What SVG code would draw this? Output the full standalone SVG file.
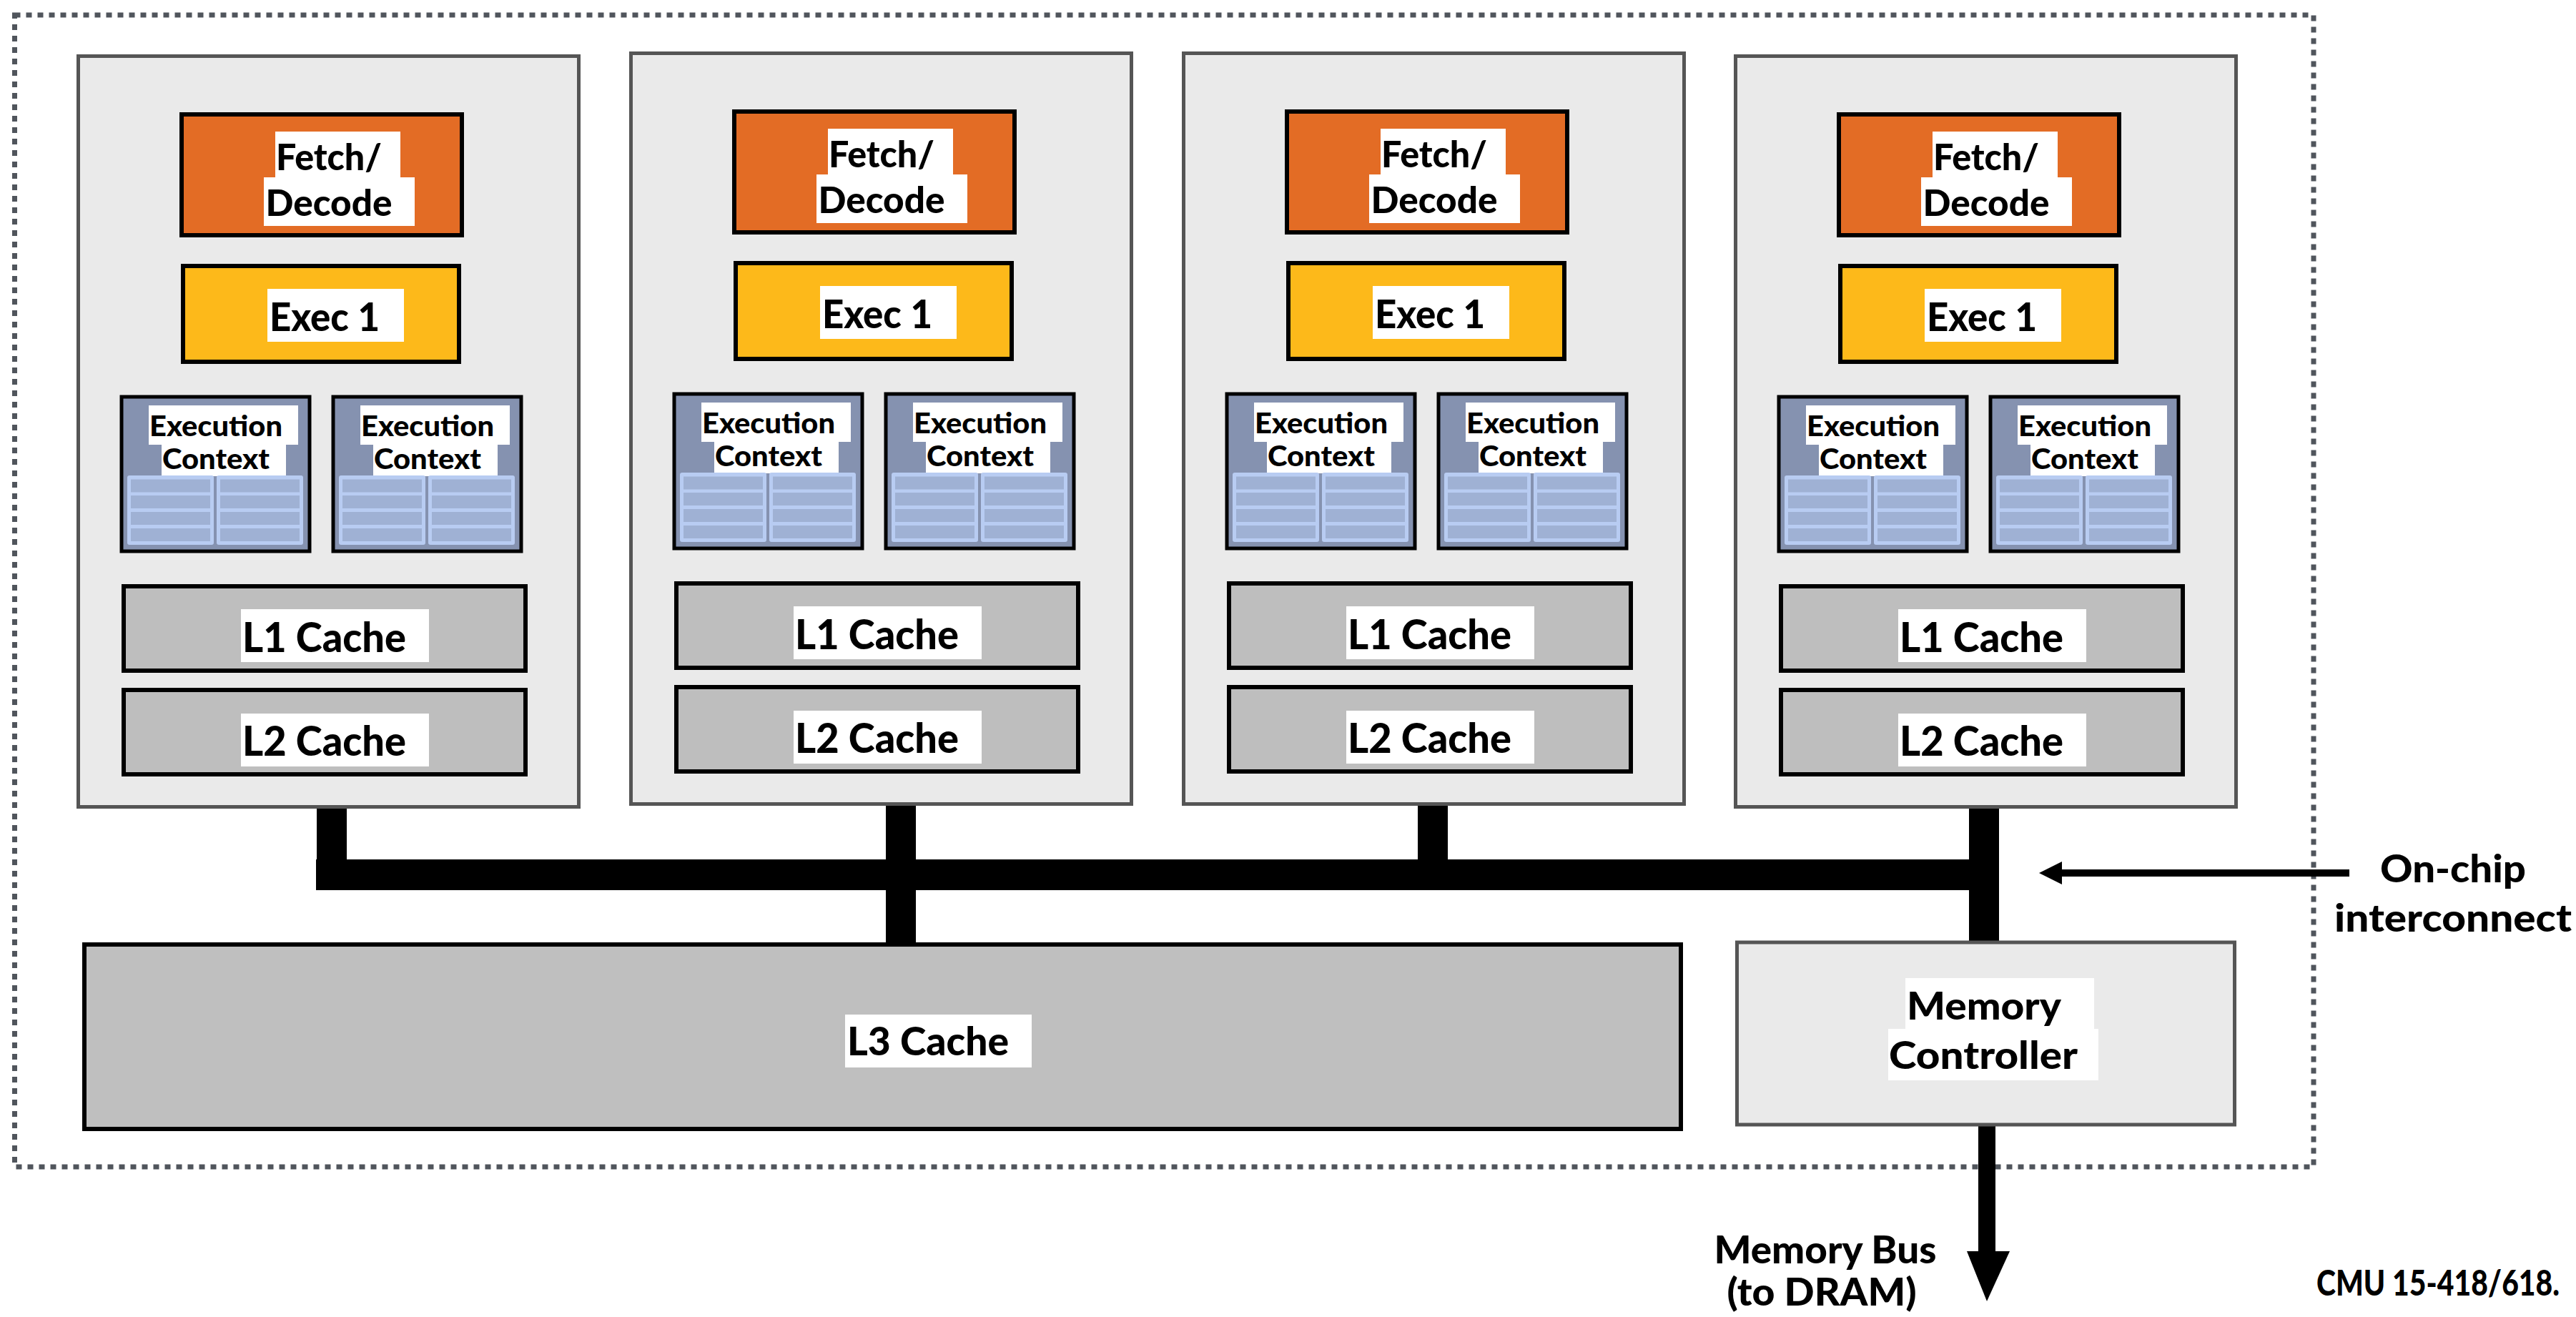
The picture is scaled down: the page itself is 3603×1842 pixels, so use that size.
<svg xmlns="http://www.w3.org/2000/svg" xmlns:xlink="http://www.w3.org/1999/xlink" width="3603" height="1842" viewBox="0 0 3603 1842">
<style>
.core{fill:#eaeaea;stroke:#555555;stroke-width:5}
.fetch{fill:#e36c25;stroke:#000;stroke-width:6}
.exec{fill:#fdb91a;stroke:#000;stroke-width:6}
.ec{fill:#8592b0;stroke:#000;stroke-width:5}
.cache{fill:#bebebe;stroke:#000;stroke-width:6}
.bg{fill:#ffffff}
.lbl{font-family:Lato,"Open Sans","Liberation Sans",sans-serif;font-weight:900;fill:#000;text-anchor:middle}
.regcol{fill:#b8ccf2}
.cell{fill:#9fb1d4}
.wire{fill:#000}
.border{fill:none;stroke:#50555c;stroke-width:7;stroke-dasharray:8 8}
</style>
<defs>
<g id="regs">
<rect class="regcol" x="0" y="0" width="121" height="97" rx="3"/>
<rect class="cell" x="5" y="5.5" width="111" height="18"/>
<rect class="cell" x="5" y="28" width="111" height="18"/>
<rect class="cell" x="5" y="51" width="111" height="18"/>
<rect class="cell" x="5" y="74" width="111" height="18"/>
<rect class="regcol" x="125" y="0" width="121" height="97" rx="3"/>
<rect class="cell" x="130" y="5.5" width="111" height="18"/>
<rect class="cell" x="130" y="28" width="111" height="18"/>
<rect class="cell" x="130" y="51" width="111" height="18"/>
<rect class="cell" x="130" y="74" width="111" height="18"/>
</g>
</defs>
<rect width="3603" height="1842" fill="#ffffff"/>
<rect id="chip" class="border" x="20.5" y="21" width="3215.5" height="1611"/>

<g id="connectors">
<rect class="wire" x="442" y="1202" width="2354" height="43"/>
<rect class="wire" x="443" y="1128" width="42" height="76"/>
<rect class="wire" x="1239" y="1124" width="42" height="196"/>
<rect class="wire" x="1983" y="1124" width="42" height="80"/>
<rect class="wire" x="2754" y="1128" width="42" height="190"/>
<rect class="wire" x="2767" y="1573" width="24" height="179"/>
<polygon class="wire" points="2751,1750 2811,1750 2779,1820"/>
<rect class="wire" x="2882" y="1216" width="404" height="10"/>
<polygon class="wire" points="2852,1221 2884,1205 2884,1237"/>
</g>

<g id="core1">
<rect class="core" x="109.5" y="78.5" width="700" height="1050"/>
<g id="core1-fetch"><rect class="fetch" x="254" y="160" width="392" height="169"/>
<rect class="bg" x="385" y="184" width="175" height="65"/><rect class="bg" x="369" y="248" width="211" height="68"/>
<text class="lbl" x="460" y="238" font-size="52" textLength="148" lengthAdjust="spacingAndGlyphs">Fetch/</text>
<text class="lbl" x="460" y="302" font-size="52" textLength="177" lengthAdjust="spacingAndGlyphs">Decode</text></g>
<g id="core1-exec"><rect class="exec" x="256" y="372" width="386" height="134"/>
<rect class="bg" x="374" y="404" width="191" height="74"/>
<text class="lbl" x="454" y="463" font-size="55" textLength="154" lengthAdjust="spacingAndGlyphs">Exec 1</text></g>
<g id="core1-ctx1"><rect class="ec" x="170" y="555" width="263" height="216"/>
<rect class="bg" x="208" y="567" width="209" height="55"/><rect class="bg" x="226" y="621" width="174" height="45"/>
<text class="lbl" x="302" y="610" font-size="40" textLength="186" lengthAdjust="spacingAndGlyphs">Execution</text>
<text class="lbl" x="302" y="656" font-size="40" textLength="150" lengthAdjust="spacingAndGlyphs">Context</text>
<use xlink:href="#regs" x="178" y="665"/></g>
<g id="core1-ctx2"><rect class="ec" x="466" y="555" width="263" height="216"/>
<rect class="bg" x="504" y="567" width="209" height="55"/><rect class="bg" x="522" y="621" width="174" height="45"/>
<text class="lbl" x="598" y="610" font-size="40" textLength="186" lengthAdjust="spacingAndGlyphs">Execution</text>
<text class="lbl" x="598" y="656" font-size="40" textLength="150" lengthAdjust="spacingAndGlyphs">Context</text>
<use xlink:href="#regs" x="474" y="665"/></g>
<g id="core1-l1"><rect class="cache" x="173" y="820" width="562" height="118"/>
<rect class="bg" x="337" y="852" width="263" height="74"/>
<text class="lbl" x="453.5" y="912" font-size="57" textLength="229" lengthAdjust="spacingAndGlyphs">L1 Cache</text></g>
<g id="core1-l2"><rect class="cache" x="173" y="965" width="562" height="118"/>
<rect class="bg" x="337" y="998" width="263" height="74"/>
<text class="lbl" x="453.5" y="1057" font-size="57" textLength="229" lengthAdjust="spacingAndGlyphs">L2 Cache</text></g>
</g>

<g id="core2" transform="translate(773,-4)">
<rect class="core" x="109.5" y="78.5" width="700" height="1050"/>
<g id="core2-fetch"><rect class="fetch" x="254" y="160" width="392" height="169"/>
<rect class="bg" x="385" y="184" width="175" height="65"/><rect class="bg" x="369" y="248" width="211" height="68"/>
<text class="lbl" x="460" y="238" font-size="52" textLength="148" lengthAdjust="spacingAndGlyphs">Fetch/</text>
<text class="lbl" x="460" y="302" font-size="52" textLength="177" lengthAdjust="spacingAndGlyphs">Decode</text></g>
<g id="core2-exec"><rect class="exec" x="256" y="372" width="386" height="134"/>
<rect class="bg" x="374" y="404" width="191" height="74"/>
<text class="lbl" x="454" y="463" font-size="55" textLength="154" lengthAdjust="spacingAndGlyphs">Exec 1</text></g>
<g id="core2-ctx1"><rect class="ec" x="170" y="555" width="263" height="216"/>
<rect class="bg" x="208" y="567" width="209" height="55"/><rect class="bg" x="226" y="621" width="174" height="45"/>
<text class="lbl" x="302" y="610" font-size="40" textLength="186" lengthAdjust="spacingAndGlyphs">Execution</text>
<text class="lbl" x="302" y="656" font-size="40" textLength="150" lengthAdjust="spacingAndGlyphs">Context</text>
<use xlink:href="#regs" x="178" y="665"/></g>
<g id="core2-ctx2"><rect class="ec" x="466" y="555" width="263" height="216"/>
<rect class="bg" x="504" y="567" width="209" height="55"/><rect class="bg" x="522" y="621" width="174" height="45"/>
<text class="lbl" x="598" y="610" font-size="40" textLength="186" lengthAdjust="spacingAndGlyphs">Execution</text>
<text class="lbl" x="598" y="656" font-size="40" textLength="150" lengthAdjust="spacingAndGlyphs">Context</text>
<use xlink:href="#regs" x="474" y="665"/></g>
<g id="core2-l1"><rect class="cache" x="173" y="820" width="562" height="118"/>
<rect class="bg" x="337" y="852" width="263" height="74"/>
<text class="lbl" x="453.5" y="912" font-size="57" textLength="229" lengthAdjust="spacingAndGlyphs">L1 Cache</text></g>
<g id="core2-l2"><rect class="cache" x="173" y="965" width="562" height="118"/>
<rect class="bg" x="337" y="998" width="263" height="74"/>
<text class="lbl" x="453.5" y="1057" font-size="57" textLength="229" lengthAdjust="spacingAndGlyphs">L2 Cache</text></g>
</g>

<g id="core3" transform="translate(1546,-4)">
<rect class="core" x="109.5" y="78.5" width="700" height="1050"/>
<g id="core3-fetch"><rect class="fetch" x="254" y="160" width="392" height="169"/>
<rect class="bg" x="385" y="184" width="175" height="65"/><rect class="bg" x="369" y="248" width="211" height="68"/>
<text class="lbl" x="460" y="238" font-size="52" textLength="148" lengthAdjust="spacingAndGlyphs">Fetch/</text>
<text class="lbl" x="460" y="302" font-size="52" textLength="177" lengthAdjust="spacingAndGlyphs">Decode</text></g>
<g id="core3-exec"><rect class="exec" x="256" y="372" width="386" height="134"/>
<rect class="bg" x="374" y="404" width="191" height="74"/>
<text class="lbl" x="454" y="463" font-size="55" textLength="154" lengthAdjust="spacingAndGlyphs">Exec 1</text></g>
<g id="core3-ctx1"><rect class="ec" x="170" y="555" width="263" height="216"/>
<rect class="bg" x="208" y="567" width="209" height="55"/><rect class="bg" x="226" y="621" width="174" height="45"/>
<text class="lbl" x="302" y="610" font-size="40" textLength="186" lengthAdjust="spacingAndGlyphs">Execution</text>
<text class="lbl" x="302" y="656" font-size="40" textLength="150" lengthAdjust="spacingAndGlyphs">Context</text>
<use xlink:href="#regs" x="178" y="665"/></g>
<g id="core3-ctx2"><rect class="ec" x="466" y="555" width="263" height="216"/>
<rect class="bg" x="504" y="567" width="209" height="55"/><rect class="bg" x="522" y="621" width="174" height="45"/>
<text class="lbl" x="598" y="610" font-size="40" textLength="186" lengthAdjust="spacingAndGlyphs">Execution</text>
<text class="lbl" x="598" y="656" font-size="40" textLength="150" lengthAdjust="spacingAndGlyphs">Context</text>
<use xlink:href="#regs" x="474" y="665"/></g>
<g id="core3-l1"><rect class="cache" x="173" y="820" width="562" height="118"/>
<rect class="bg" x="337" y="852" width="263" height="74"/>
<text class="lbl" x="453.5" y="912" font-size="57" textLength="229" lengthAdjust="spacingAndGlyphs">L1 Cache</text></g>
<g id="core3-l2"><rect class="cache" x="173" y="965" width="562" height="118"/>
<rect class="bg" x="337" y="998" width="263" height="74"/>
<text class="lbl" x="453.5" y="1057" font-size="57" textLength="229" lengthAdjust="spacingAndGlyphs">L2 Cache</text></g>
</g>

<g id="core4" transform="translate(2318,0)">
<rect class="core" x="109.5" y="78.5" width="700" height="1050"/>
<g id="core4-fetch"><rect class="fetch" x="254" y="160" width="392" height="169"/>
<rect class="bg" x="385" y="184" width="175" height="65"/><rect class="bg" x="369" y="248" width="211" height="68"/>
<text class="lbl" x="460" y="238" font-size="52" textLength="148" lengthAdjust="spacingAndGlyphs">Fetch/</text>
<text class="lbl" x="460" y="302" font-size="52" textLength="177" lengthAdjust="spacingAndGlyphs">Decode</text></g>
<g id="core4-exec"><rect class="exec" x="256" y="372" width="386" height="134"/>
<rect class="bg" x="374" y="404" width="191" height="74"/>
<text class="lbl" x="454" y="463" font-size="55" textLength="154" lengthAdjust="spacingAndGlyphs">Exec 1</text></g>
<g id="core4-ctx1"><rect class="ec" x="170" y="555" width="263" height="216"/>
<rect class="bg" x="208" y="567" width="209" height="55"/><rect class="bg" x="226" y="621" width="174" height="45"/>
<text class="lbl" x="302" y="610" font-size="40" textLength="186" lengthAdjust="spacingAndGlyphs">Execution</text>
<text class="lbl" x="302" y="656" font-size="40" textLength="150" lengthAdjust="spacingAndGlyphs">Context</text>
<use xlink:href="#regs" x="178" y="665"/></g>
<g id="core4-ctx2"><rect class="ec" x="466" y="555" width="263" height="216"/>
<rect class="bg" x="504" y="567" width="209" height="55"/><rect class="bg" x="522" y="621" width="174" height="45"/>
<text class="lbl" x="598" y="610" font-size="40" textLength="186" lengthAdjust="spacingAndGlyphs">Execution</text>
<text class="lbl" x="598" y="656" font-size="40" textLength="150" lengthAdjust="spacingAndGlyphs">Context</text>
<use xlink:href="#regs" x="474" y="665"/></g>
<g id="core4-l1"><rect class="cache" x="173" y="820" width="562" height="118"/>
<rect class="bg" x="337" y="852" width="263" height="74"/>
<text class="lbl" x="453.5" y="912" font-size="57" textLength="229" lengthAdjust="spacingAndGlyphs">L1 Cache</text></g>
<g id="core4-l2"><rect class="cache" x="173" y="965" width="562" height="118"/>
<rect class="bg" x="337" y="998" width="263" height="74"/>
<text class="lbl" x="453.5" y="1057" font-size="57" textLength="229" lengthAdjust="spacingAndGlyphs">L2 Cache</text></g>
</g>

<g id="l3cache">
<rect class="cache" x="118" y="1321" width="2233" height="258" style="fill:#bfbfbf"/>
<rect class="bg" x="1182" y="1419" width="261" height="74"/>
<text class="lbl" x="1298" y="1476" font-size="56" textLength="226" lengthAdjust="spacingAndGlyphs">L3 Cache</text>
</g>

<g id="memctrl">
<rect class="core" x="2429.5" y="1318" width="696" height="255"/>
<rect class="bg" x="2665" y="1368" width="264" height="72"/>
<rect class="bg" x="2641" y="1439" width="294" height="72"/>
<text class="lbl" x="2775" y="1426" font-size="54" textLength="216" lengthAdjust="spacingAndGlyphs">Memory</text>
<text class="lbl" x="2774" y="1495" font-size="54" textLength="264" lengthAdjust="spacingAndGlyphs">Controller</text>
</g>

<g id="label-interconnect">
<text class="lbl" x="3431" y="1234" font-size="53" textLength="204" lengthAdjust="spacingAndGlyphs">On-chip</text>
<text class="lbl" x="3431" y="1303" font-size="53" textLength="332" lengthAdjust="spacingAndGlyphs">interconnect</text>
</g>
<g id="label-membus">
<text class="lbl" x="2553" y="1767" font-size="53" textLength="311" lengthAdjust="spacingAndGlyphs">Memory Bus</text>
<text class="lbl" x="2548" y="1826" font-size="53" textLength="265" lengthAdjust="spacingAndGlyphs">(to DRAM)</text>
</g>
<g id="footer">
<text class="lbl" x="3410" y="1812" font-size="50" textLength="340" lengthAdjust="spacingAndGlyphs">CMU 15-418/618.</text>
</g>
</svg>
